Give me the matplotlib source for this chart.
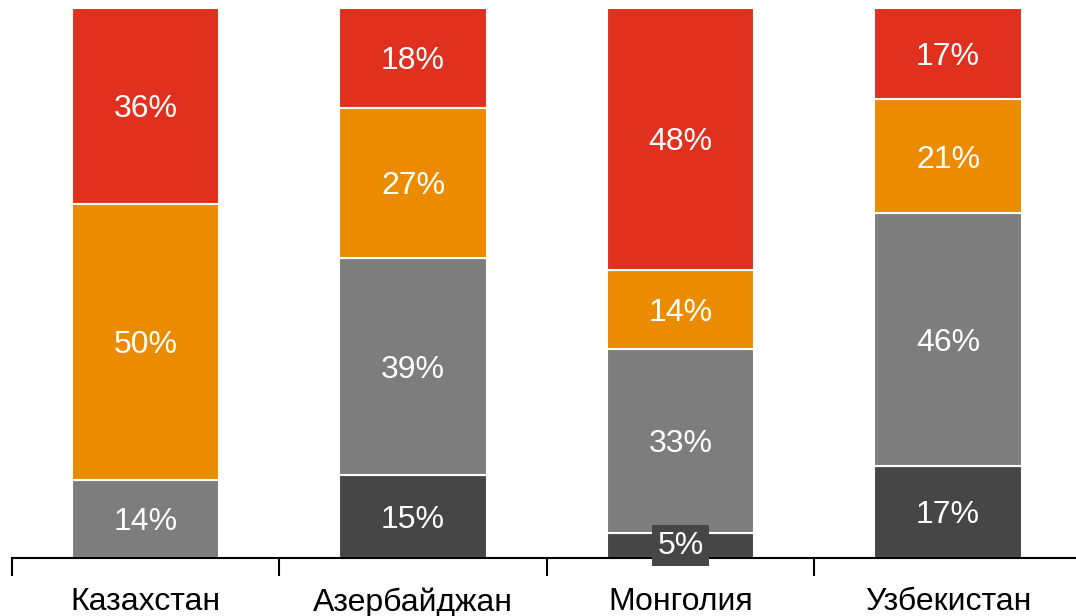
import numpy as np
import matplotlib
matplotlib.use("Agg")
from matplotlib import pyplot as plt

plt.rcParams['font.family'] = ['Liberation Sans', 'DejaVu Sans']

countries = ["Казахстан", "Азербайджан", "Монголия", "Узбекистан"]
# shares, bottom to top
darkVals   = [0.0, 15.1, 4.6, 16.8]
grayVals   = [14.2, 39.4, 33.4, 45.9]
orangeVals = [50.2, 27.4, 14.4, 20.7]
redVals    = [35.6, 18.1, 47.6, 16.6]

series = [(darkVals, "#464646"), (grayVals, "#7d7d7d"),
          (orangeVals, "#eb8c00"), (redVals, "#e0301e")]

W, H = 1076, 616
fig = plt.figure(figsize=(W/100, H/100), dpi=100)
ax = fig.add_axes([11.75/W, 1-558/H, 1070/W, 550/H])

x = np.arange(len(countries))
bottom = np.zeros(len(countries))
for vals, col in series:
    vals = np.array(vals)
    ax.bar(x, vals, 0.55, bottom=bottom, color=col, edgecolor="white", linewidth=1.5)
    for i in range(len(x)):
        if vals[i] <= 0:
            continue
        yc = bottom[i] + vals[i]/2
        lab = "%.0f%%" % vals[i]
        if vals[i] < 8:
            # small segment: label sits on its own dark box
            ax.text(x[i], yc + 0.6, lab, ha="center", va="center_baseline",
                    color="white", fontsize=23,
                    bbox=dict(boxstyle="square,pad=0.16", fc="#464646", ec="none"))
        else:
            ax.text(x[i], yc, lab, ha="center", va="center_baseline",
                    color="white", fontsize=23)
    bottom = bottom + vals

ax.set_xlim(-0.5, 3.5)
ax.set_ylim(0, 100)
for s in ["top", "right", "left"]:
    ax.spines[s].set_visible(False)
ax.spines["bottom"].set_linewidth(1.5)
ax.set_yticks([])
ax.set_xticks(np.arange(-0.5, 3.6, 1.0))
ax.set_xticklabels([])
ax.tick_params(axis="x", length=13, width=1.5, direction="out")
ax.set_xticks(x, minor=True)
ax.set_xticklabels(countries, minor=True, fontsize=23)
ax.tick_params(axis="x", which="minor", length=0, pad=21)

fig.savefig("out.png", dpi=100)
